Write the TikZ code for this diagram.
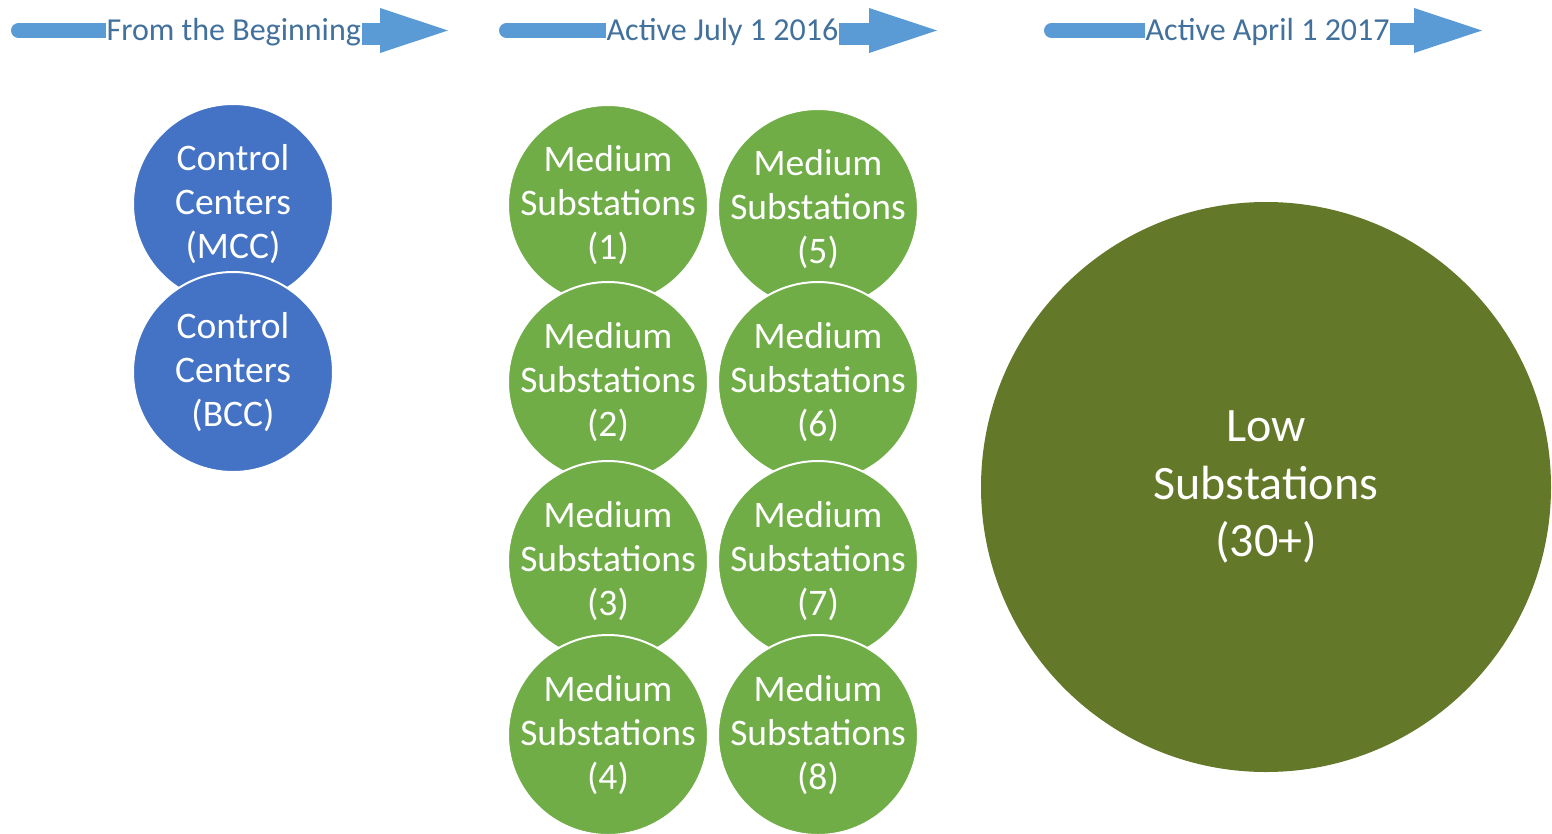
\documentclass[tikz,border=0pt]{standalone}
\usepackage{fontspec}
\setmainfont{Carlito}
\definecolor{arrblue}{HTML}{5B9BD5}
\definecolor{hdrtxt}{HTML}{41719C}
\definecolor{ccblue}{HTML}{4472C4}
\definecolor{medgreen}{HTML}{70AD47}
\definecolor{lowgreen}{HTML}{637828}
\begin{document}
\begin{tikzpicture}[x=1pt,y=-1pt,
  ball/.style={circle, minimum size=200pt, inner sep=-30pt, draw=white, line width=2pt,
    text=white, align=center, font=\fontsize{37.5}{44}\selectfont},
  cc/.style={ball, fill=ccblue},
  med/.style={ball, fill=medgreen},
  hdr/.style={font=\fontsize{32}{38}\selectfont, text=hdrtxt, fill=white,
    inner xsep=0.5pt, inner ysep=4pt, anchor=base west},
  shaft/.style={draw=arrblue, line width=15.5pt, line cap=round},
  headfill/.style={fill=arrblue}]
\useasboundingbox (0,0) rectangle (1552,833);

% ---- header arrow 1
\coordinate (a1s) at (18.75,30.5);
\coordinate (a1m) at (110,30.5);
\draw[shaft] (a1s) -- (a1m);
\node[hdr] (h1) at (106,40) {From the Beginning};
\coordinate (a1b) at (380,45);
\fill[headfill] (h1.east |- 0,23) rectangle (a1b);
\coordinate (a1t1) at (380,8);
\coordinate (a1tip) at (448,30.5);
\coordinate (a1t2) at (380,53);
\fill[headfill] (a1t1) -- (a1tip) -- (a1t2) -- cycle;

% ---- header arrow 2
\coordinate (a2s) at (506.75,30.5);
\coordinate (a2m) at (612,30.5);
\draw[shaft] (a2s) -- (a2m);
\node[hdr] (h2) at (606,40) {Active July 1 2016};
\coordinate (a2b) at (869,45);
\fill[headfill] (h2.east |- 0,23) rectangle (a2b);
\coordinate (a2t1) at (869,8);
\coordinate (a2tip) at (937,30.5);
\coordinate (a2t2) at (869,53);
\fill[headfill] (a2t1) -- (a2tip) -- (a2t2) -- cycle;

% ---- header arrow 3
\coordinate (a3s) at (1051.75,30.5);
\coordinate (a3m) at (1150,30.5);
\draw[shaft] (a3s) -- (a3m);
\node[hdr] (h3) at (1145,40) {Active April 1 2017};
\coordinate (a3b) at (1414,45);
\fill[headfill] (h3.east |- 0,23) rectangle (a3b);
\coordinate (a3t1) at (1414,8);
\coordinate (a3tip) at (1482,30.5);
\coordinate (a3t2) at (1414,53);
\fill[headfill] (a3t1) -- (a3tip) -- (a3t2) -- cycle;

% ---- control centers
\node[cc] (mcc) at (233,204) {Control\\Centers\\(MCC)};
\node[cc] (bcc) at (233,372) {Control\\Centers\\(BCC)};

% ---- medium substations
\node[med] (m1) at (608,205) {Medium\\Substations\\(1)};
\node[med] (m2) at (608,382) {Medium\\Substations\\(2)};
\node[med] (m3) at (608,561) {Medium\\Substations\\(3)};
\node[med] (m4) at (608,735) {Medium\\Substations\\(4)};
\node[med] (m5) at (818,209) {Medium\\Substations\\(5)};
\node[med] (m6) at (818,382) {Medium\\Substations\\(6)};
\node[med] (m7) at (818,561) {Medium\\Substations\\(7)};
\node[med] (m8) at (818,735) {Medium\\Substations\\(8)};

% ---- low substations
\node[ball, draw=none, fill=lowgreen, minimum size=570pt,
  font=\fontsize{48}{57.5}\selectfont] (low) at (1266,487) {Low\\Substations\\(30+)};
\end{tikzpicture}
\end{document}
